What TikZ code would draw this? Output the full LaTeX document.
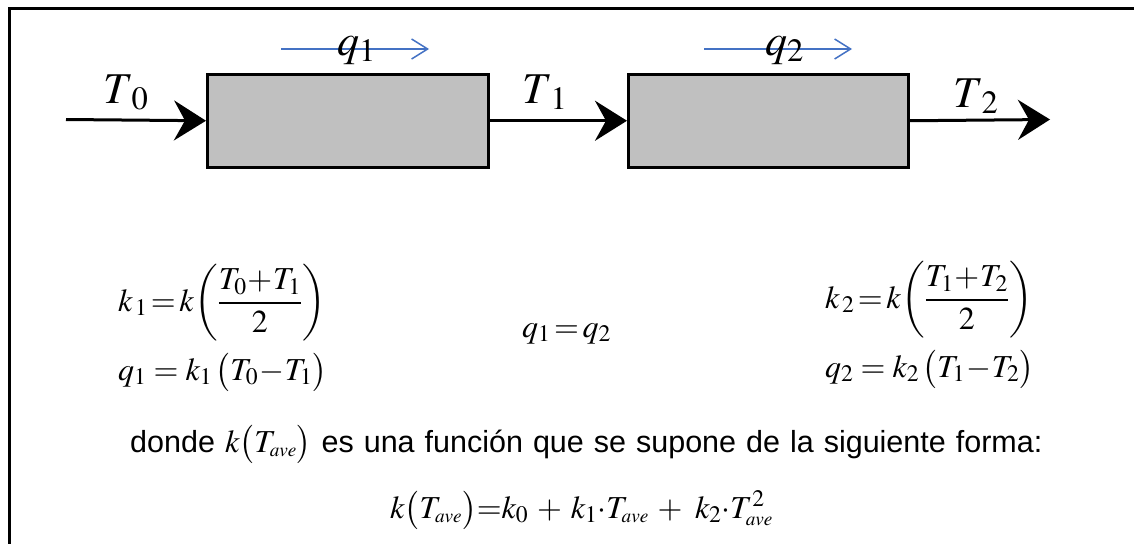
\documentclass[tikz,border=0pt]{standalone}
\usepackage{amsmath}
\usepackage{mathptmx}
\usepackage[no-math]{fontspec}
\setmainfont{Liberation Sans}
\usetikzlibrary{arrows.meta}
\definecolor{qblue}{HTML}{4472C4}
\definecolor{boxgray}{HTML}{C0C0C0}
\newcommand{\avesub}{{\scriptscriptstyle ave}}
\begin{document}
\begin{tikzpicture}[x=1pt,y=-1pt,
  blockbox/.style={draw=black, line width=2.5pt, fill=boxgray, minimum width=281pt, minimum height=93pt, inner sep=0pt, anchor=north west},
  flow/.style={line width=3pt, -{Stealth[length=32pt,width=40pt,inset=11pt]}},
  heat/.style={qblue, line width=1.5pt, -{Straight Barb[length=16pt,width=20pt]}},
  biglabel/.style={font=\fontsize{44}{50}\selectfont, inner sep=0pt, anchor=base west},
  eqn/.style={font=\fontsize{32}{38}\selectfont, inner sep=0pt, anchor=base west},
  txt/.style={font=\fontsize{30.5}{35}\selectfont, inner sep=0pt, anchor=base west}]
\useasboundingbox (0,0) rectangle (1134,544);
% frame (clipped at right and bottom)
\draw[line width=3pt] (1134,8) -- (9,8) -- (9,544);
% blocks
\node[blockbox] (b1) at (206,73) {};
\node[blockbox, minimum width=280pt] (b2) at (627,73) {};
\coordinate (in) at (66,119.5);
\coordinate (out) at (1050,119.5);
\draw[flow] (in) -- (b1.west);
\draw[flow] (b1.east) -- (b2.west);
\draw[flow] (b2.east) -- (out);
% heat arrows
\coordinate (q1s) at (281,49);
\coordinate (q1e) at (429,49);
\coordinate (q2s) at (704,49);
\coordinate (q2e) at (852,49);
\draw[heat] (q1s) -- (q1e);
\draw[heat] (q2s) -- (q2e);
% labels
\node[biglabel] (lq1) at (337,55) {$q_1$};
\node[biglabel] (lq2) at (765,55) {$q_2$};
\node[biglabel] (lT0) at (103,103) {$T_{\;0}$};
\node[biglabel] (lT1) at (522,103) {$T_{\;1}$};
\node[biglabel] (lT2) at (953,107) {$T_{\;2}$};
% equations
\node[eqn] (e1) at (118,311) {$k_{\,1}\!=\!k\!\left(\dfrac{T_0 \!+\! T_1}{2}\right)$};
\node[eqn] (e2) at (118,380) {$q_1 = k_1\,\bigl(T_0 \!-\! T_1\bigr)$};
\node[eqn] (e3) at (522,337) {$q_1 \!=\! q_2$};
\node[eqn] (e4) at (825,308) {$k_{\,2}\!=\!k\!\left(\dfrac{T_1 \!+\! T_2}{2}\right)$};
\node[eqn] (e5) at (825,377) {$q_2 = k_2\,\bigl(T_1 \!-\! T_2\bigr)$};
\node[txt] (t1) at (130,452) {\spaceskip=10pt plus 1pt donde {\fontsize{32}{38}\selectfont$k\bigl(T_\avesub\bigr)$} es una función que se supone de la siguiente forma:};
\node[eqn] (e6) at (390,518) {$k\bigl(T_\avesub\bigr){=}k_0 \:+\: k_1{\cdot}T_\avesub \:+\: \,k_2{\cdot}T_\avesub^2$};
\end{tikzpicture}
\end{document}
